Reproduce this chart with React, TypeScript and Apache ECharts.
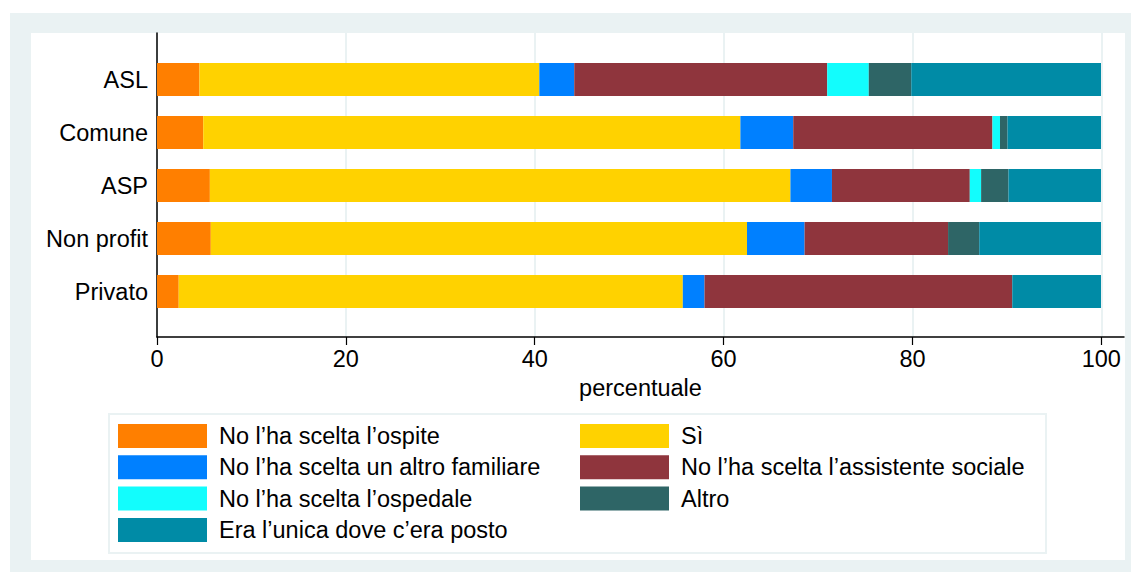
import React, { useEffect, useRef } from "react";
import * as echarts from "echarts";

const categories = ["ASL", "Comune", "ASP", "Non profit", "Privato"];
const seriesNames = [
  "No l’ha scelta l’ospite",
  "Sì",
  "No l’ha scelta un altro familiare",
  "No l’ha scelta l’assistente sociale",
  "No l’ha scelta l’ospedale",
  "Altro",
  "Era l’unica dove c’era posto",
];
const ospite = [4.5, 4.9, 5.6, 5.7, 2.3];
const si = [36.0, 56.9, 61.5, 56.8, 53.4];
const familiare = [3.7, 5.6, 4.4, 6.1, 2.3];
const assistente = [26.8, 21.1, 14.6, 15.2, 32.6];
const ospedale = [4.4, 0.8, 1.2, 0, 0];
const altro = [4.5, 0.8, 2.9, 3.3, 0];
const unica = [20.1, 9.9, 9.8, 12.9, 9.4];
const xTicks = [0, 20, 40, 60, 80, 100];

const colors = ["#ff7f00", "#ffd200", "#0080ff", "#8f353d", "#12fdfd", "#2e6566", "#008ba6"];
const values = [ospite, si, familiare, assistente, ospedale, altro, unica];

const FONT = "'Liberation Sans', Arial, Helvetica, sans-serif";
const FS = 23.5;

export default function App() {
  const ref = useRef<HTMLDivElement>(null);
  useEffect(() => {
    if (!ref.current) return;
    const chart = echarts.init(ref.current, null, { renderer: "svg" });
    const option: any = {
      animation: false,
      backgroundColor: "#ffffff",
      textStyle: { fontFamily: FONT },
      graphic: [
        {
          type: "rect",
          z: -100,
          silent: true,
          shape: { x: 10, y: 13, width: 1121, height: 559 },
          style: { fill: "#eaf2f3" },
        },
        {
          type: "rect",
          z: -99,
          silent: true,
          shape: { x: 31, y: 33, width: 1094, height: 527 },
          style: { fill: "#ffffff" },
        },
        {
          type: "rect",
          z: -98,
          silent: true,
          shape: { x: 109, y: 414, width: 937, height: 139 },
          style: { fill: "#ffffff", stroke: "#eaf2f3", lineWidth: 2 },
        },
      ],
      grid: [
        { left: 157, top: 33, width: 967, height: 304, containLabel: false },
        { left: 157, top: 53, width: 944, height: 265, containLabel: false },
      ],
      xAxis: [
        {
          gridIndex: 0,
          type: "value",
          min: 0,
          max: 102.4,
          interval: 20,
          name: "percentuale",
          nameLocation: "middle",
          nameGap: 36,
          nameTextStyle: { fontSize: FS, color: "#000", fontFamily: FONT },
          axisLine: { show: true, lineStyle: { color: "#000", width: 1.5 } },
          axisTick: {
            show: true,
            length: 8,
            customValues: xTicks,
            lineStyle: { color: "#000", width: 1.2 },
          },
          axisLabel: {
            show: true,
            customValues: xTicks,
            margin: 10,
            fontSize: FS,
            color: "#000",
            fontFamily: FONT,
            formatter: (v: number) => (xTicks.indexOf(v) >= 0 ? String(v) : ""),
          },
          splitLine: { show: true, lineStyle: { color: "#eaf2f3", width: 2 } },
        },
        {
          gridIndex: 1,
          type: "value",
          min: 0,
          max: 100,
          show: false,
        },
      ],
      yAxis: [
        {
          gridIndex: 0,
          type: "value",
          min: 0,
          max: 1,
          axisLine: { show: true, lineStyle: { color: "#000", width: 1.5 } },
          axisTick: { show: false },
          axisLabel: { show: false },
          splitLine: { show: false },
        },
        {
          gridIndex: 1,
          type: "category",
          data: categories,
          inverse: true,
          axisLine: { show: false },
          axisTick: { show: false },
          axisLabel: { margin: 9, fontSize: FS, color: "#000", fontFamily: FONT },
        },
      ],
      legend: [
        {
          orient: "vertical",
          left: 118,
          top: 424,
          padding: 0,
          itemWidth: 89,
          itemHeight: 24,
          itemGap: 7.3,
          icon: "rect",
          selectedMode: false,
          data: [seriesNames[0], seriesNames[2], seriesNames[4], seriesNames[6]],
          textStyle: { fontSize: FS, color: "#000", fontFamily: FONT, padding: [0, 0, 0, 7] },
        },
        {
          orient: "vertical",
          left: 580,
          top: 424,
          padding: 0,
          itemWidth: 89,
          itemHeight: 24,
          itemGap: 7.3,
          icon: "rect",
          selectedMode: false,
          data: [seriesNames[1], seriesNames[3], seriesNames[5]],
          textStyle: { fontSize: FS, color: "#000", fontFamily: FONT, padding: [0, 0, 0, 7] },
        },
      ],
      series: seriesNames.map((name, i) => ({
        name,
        type: "bar",
        stack: "total",
        xAxisIndex: 1,
        yAxisIndex: 1,
        barWidth: 33,
        data: values[i],
        itemStyle: { color: colors[i] },
        emphasis: { disabled: true },
      })),
    };
    chart.setOption(option);
    return () => chart.dispose();
  }, []);
  return (
    <div
      ref={ref}
      style={{ position: "absolute", left: 0, top: 0, width: 1131, height: 572 }}
    />
  );
}
